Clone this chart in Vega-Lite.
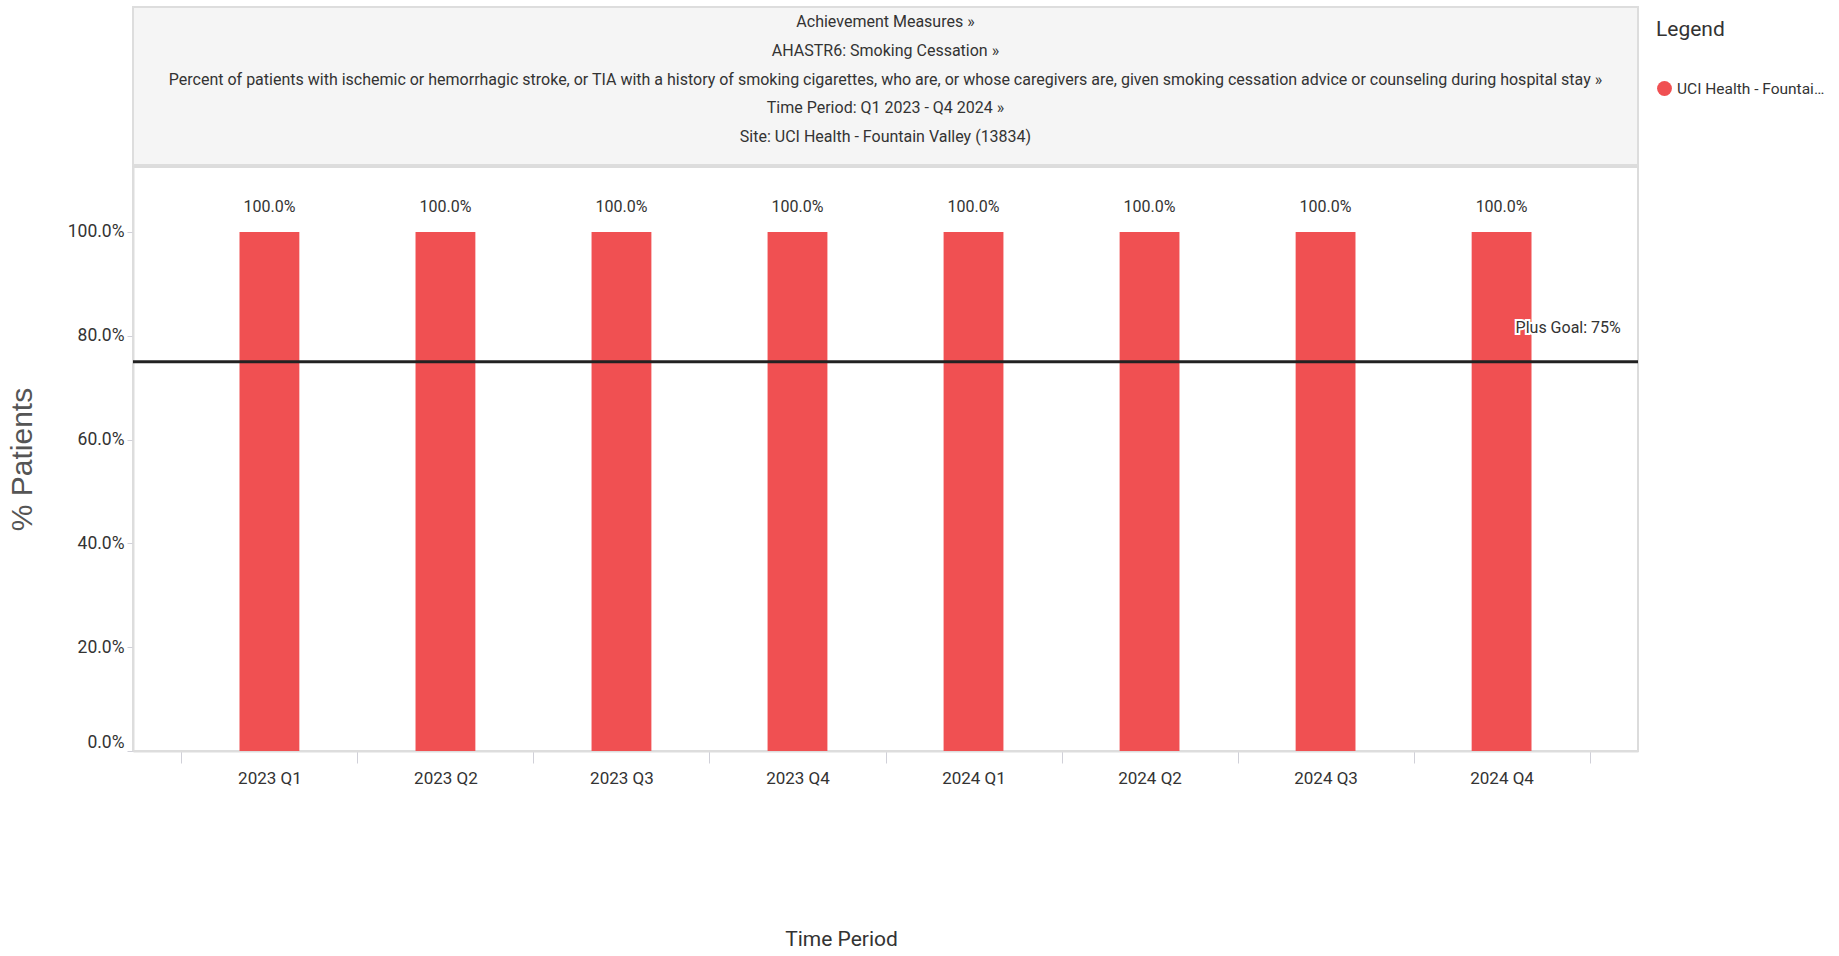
{
  "$schema": "https://vega.github.io/schema/vega-lite/v6.json",
  "padding": {"left": 6, "top": 6, "right": 0, "bottom": 0},
  "background": "white",
  "config": {
    "font": "Roboto",
    "view": {"stroke": "#dcdcdc", "strokeWidth": 2},
    "concat": {"spacing": 0}
  },
  "spacing": 0,
  "vconcat": [
    {
      "width": 1505,
      "height": 158,
      "view": {"fill": "#f5f5f5", "stroke": "#dddddd", "strokeWidth": 2},
      "data": {"values": [
        {"line": 1, "label": "Achievement Measures »"},
        {"line": 2, "label": "AHASTR6: Smoking Cessation »"},
        {"line": 3, "label": "Percent of patients with ischemic or hemorrhagic stroke, or TIA with a history of smoking cigarettes, who are, or whose caregivers are, given smoking cessation advice or counseling during hospital stay »"},
        {"line": 4, "label": "Time Period: Q1 2023 - Q4 2024 »"},
        {"line": 5, "label": "Site: UCI Health - Fountain Valley (13834)"}
      ]},
      "mark": {"type": "text", "fontSize": 16, "color": "#333333", "font": "Roboto", "baseline": "middle"},
      "encoding": {
        "y": {"field": "line", "type": "quantitative", "scale": {"domain": [0.48, 5.97], "reverse": true, "nice": false, "zero": false}, "axis": null},
        "text": {"field": "label"}
      }
    },
    {
      "width": 1505,
      "height": 584,
      "layer": [
        {
          "data": {"values": [
            {"period": "2023 Q1", "pct": 1.0, "site": "UCI Health - Fountain Valley (13834)"},
            {"period": "2023 Q2", "pct": 1.0, "site": "UCI Health - Fountain Valley (13834)"},
            {"period": "2023 Q3", "pct": 1.0, "site": "UCI Health - Fountain Valley (13834)"},
            {"period": "2023 Q4", "pct": 1.0, "site": "UCI Health - Fountain Valley (13834)"},
            {"period": "2024 Q1", "pct": 1.0, "site": "UCI Health - Fountain Valley (13834)"},
            {"period": "2024 Q2", "pct": 1.0, "site": "UCI Health - Fountain Valley (13834)"},
            {"period": "2024 Q3", "pct": 1.0, "site": "UCI Health - Fountain Valley (13834)"},
            {"period": "2024 Q4", "pct": 1.0, "site": "UCI Health - Fountain Valley (13834)"}
          ]},
          "layer": [
            {
              "mark": {"type": "bar", "width": {"band": 0.34}},
              "encoding": {
                "x": {
                  "field": "period", "type": "nominal", "sort": null,
                  "scale": {"paddingInner": 0, "paddingOuter": 0.275},
                  "axis": {
                    "title": "Time Period", "tickBand": "extent", "labelAngle": 0,
                    "labelFontSize": 17, "labelColor": "#333333", "labelPadding": 7,
                    "tickColor": "#d0d0d8", "tickSize": 12, "tickWidth": 1,
                    "domainColor": "#dddddd", "domainWidth": 2,
                    "titleFontSize": 21, "titleFontWeight": "normal", "titleColor": "#333333",
                    "titlePadding": 142, "titleX": 708, "titleAlign": "center"
                  }
                },
                "y": {
                  "field": "pct", "type": "quantitative",
                  "scale": {"domain": [0, 1.125], "nice": false},
                  "axis": {
                    "title": "% Patients", "values": [0, 0.2, 0.4, 0.6, 0.8, 1.0], "format": ".1%",
                    "labelFontSize": 17.5, "labelColor": "#333333", "labelPadding": 3, "labelFlush": true,
                    "tickColor": "#d0d0d8", "tickSize": 6,
                    "domainColor": "#dddddd", "domainWidth": 2, "grid": false,
                    "titleFont": "Liberation Sans", "titleFontSize": 30, "titleFontWeight": "normal",
                    "titleColor": "#555555", "titlePadding": 30
                  }
                },
                "color": {
                  "field": "site", "type": "nominal",
                  "scale": {"domain": ["UCI Health - Fountain Valley (13834)"], "range": ["#f05052"]},
                  "legend": {
                    "title": "Legend", "orient": "right", "offset": 3, "padding": 12,
                    "titleFontSize": 21, "titleFontWeight": "normal", "titleColor": "#333333", "titlePadding": 40,
                    "labelFontSize": 15.5, "labelColor": "#333333", "labelLimit": 150,
                    "symbolType": "circle", "symbolSize": 220
                  }
                }
              }
            },
            {
              "mark": {"type": "text", "fontSize": 16, "color": "#333333", "baseline": "middle", "dy": -25},
              "encoding": {
                "x": {"field": "period", "type": "nominal", "sort": null},
                "y": {"field": "pct", "type": "quantitative"},
                "text": {"field": "pct", "type": "quantitative", "format": ".1%"}
              }
            }
          ]
        },
        {
          "data": {"values": [{"goal": 0.75, "label": "Plus Goal: 75%", "period": "2024 Q4"}]},
          "layer": [
            {
              "mark": {"type": "rule", "color": "#222222", "strokeWidth": 3},
              "encoding": {"y": {"field": "goal", "type": "quantitative"}}
            },
            {
              "mark": {"type": "text", "fontSize": 16, "color": "#333333", "stroke": "white", "strokeWidth": 4, "align": "left", "baseline": "middle", "dx": 14, "dy": -34},
              "encoding": {
                "x": {"field": "period", "type": "nominal", "sort": null},
                "y": {"field": "goal", "type": "quantitative"},
                "text": {"field": "label"}
              }
            },
            {
              "mark": {"type": "text", "fontSize": 16, "color": "#333333", "align": "left", "baseline": "middle", "dx": 14, "dy": -34},
              "encoding": {
                "x": {"field": "period", "type": "nominal", "sort": null},
                "y": {"field": "goal", "type": "quantitative"},
                "text": {"field": "label"}
              }
            }
          ]
        }
      ]
    }
  ]
}
